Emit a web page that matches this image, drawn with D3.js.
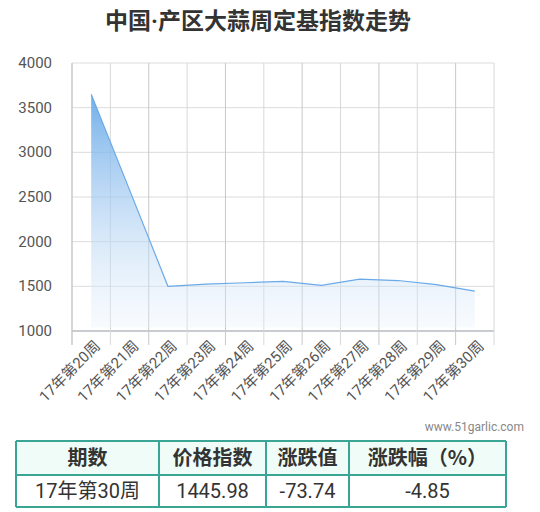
<!DOCTYPE html><html><head><meta charset="utf-8"><script src="https://d3js.org/d3.v7.min.js"></script>
<style>body{margin:0;background:#fff;font-family:Roboto,"Noto Sans CJK SC",sans-serif}</style></head><body><svg width="540" height="512"></svg>
<script>
const categories=["17年第20周","17年第21周","17年第22周","17年第23周","17年第24周","17年第25周","17年第26周","17年第27周","17年第28周","17年第29周","17年第30周"];
const values=[3650,2580,1500,1525,1540,1555,1510,1580,1565,1520,1446];
const yTicks=[1000,1500,2000,2500,3000,3500,4000];
const tableHead=["期数","价格指数","涨跌值","涨跌幅（%）"];
const tableRow=["17年第30周","1445.98","-73.74","-4.85"];
const svg=d3.select("svg");
const L=72,R=494,T=63,B=331;
const x=d3.scaleBand().domain(categories).range([L,R]);
const y=d3.scaleLinear().domain([1000,4000]).range([B,T]);
const defs=svg.append("defs");
const g=defs.append("linearGradient").attr("id","gr").attr("x1",0).attr("y1",0).attr("x2",0).attr("y2",1);
g.append("stop").attr("offset","0%").attr("stop-color","#6aaae8").attr("stop-opacity",0.95);
g.append("stop").attr("offset","100%").attr("stop-color","#e6f0fb").attr("stop-opacity",0.3);
svg.append("text").attr("x",258).attr("y",29).attr("text-anchor","middle").attr("font-size",23).attr("font-weight","bold").attr("fill","#333").attr("font-family","Roboto,Noto Sans CJK SC").text("中国·产区大蒜周定基指数走势");
svg.append("g").selectAll("line").data(yTicks).join("line").attr("x1",L).attr("x2",R).attr("y1",d=>y(d)).attr("y2",d=>y(d)).attr("stroke",(d,i)=>i==0?"#c8ccd0":"#dcdcdc").attr("stroke-width",(d,i)=>i==0?2:1);
const vx=categories.map(c=>x(c)).concat([R]);
svg.append("g").selectAll("line").data(vx).join("line").attr("x1",d=>d).attr("x2",d=>d).attr("y1",T).attr("y2",B+14).attr("stroke",(d,i)=>i%2==0?"#c8c8c8":"#d8d8d8").attr("stroke-width",(d,i)=>i==0?1.5:1);
const cx=c=>x(c)+x.bandwidth()/2;
const area=d3.area().x((d,i)=>cx(categories[i])).y0(y(1040)).y1(d=>y(d));
svg.append("path").datum(values).attr("d",area).attr("fill","url(#gr)");
svg.append("path").datum(values).attr("d",d3.line().x((d,i)=>cx(categories[i])).y(d=>y(d))).attr("fill","none").attr("stroke","#6aaae8").attr("stroke-width",1.2);
svg.append("g").selectAll("text").data(yTicks).join("text").attr("x",52).attr("y",d=>y(d)+5).attr("text-anchor","end").attr("font-size",15).attr("fill","#555").text(d=>d);
svg.append("g").selectAll("text").data(categories).join("text").attr("transform",c=>`translate(${cx(c)+10},${B+16}) rotate(-45)`).attr("text-anchor","end").attr("font-size",15).attr("fill","#555").text(c=>c);
svg.append("text").attr("x",524).attr("y",431).attr("text-anchor","end").attr("font-size",12).attr("fill","#888").text("www.51garlic.com");
const cols=[16,159,266,349,506];
const rows=[441,475,507];
svg.append("rect").attr("x",16).attr("y",441).attr("width",490).attr("height",34).attr("fill","#effcf7");
[tableHead,tableRow].forEach((r,ri)=>r.forEach((t,ci)=>svg.append("text").attr("x",(cols[ci]+cols[ci+1])/2).attr("y",(rows[ri]+rows[ri+1])/2+7).attr("text-anchor","middle").attr("font-size",20).attr("font-weight",ri==0?"bold":"normal").attr("fill","#333").attr("font-family",ri==0?"Noto Sans CJK SC":"Roboto,Noto Sans CJK SC").text(t)));
rows.forEach(r=>svg.append("line").attr("x1",16).attr("x2",506).attr("y1",r).attr("y2",r).attr("stroke","#3aa595").attr("stroke-width",2));
cols.forEach(c=>svg.append("line").attr("x1",c).attr("x2",c).attr("y1",441).attr("y2",507).attr("stroke","#3aa595").attr("stroke-width",2));
</script></body></html>
